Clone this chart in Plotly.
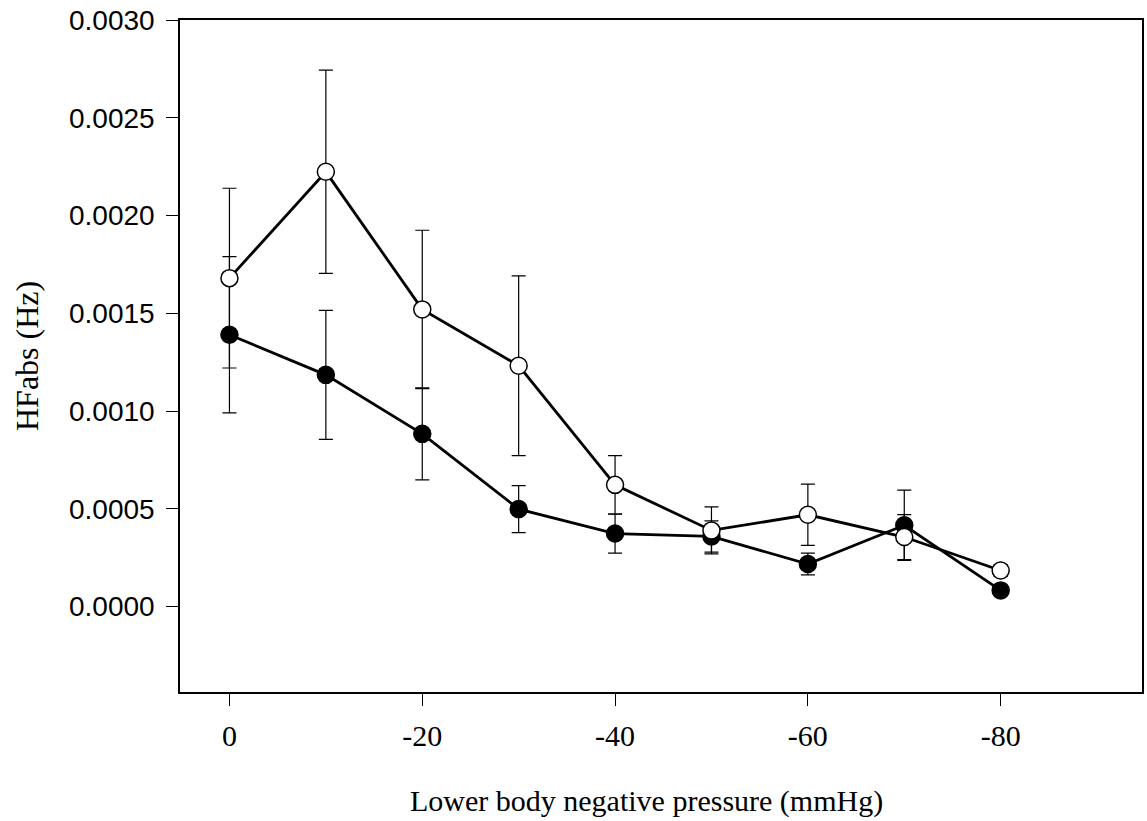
import plotly.graph_objects as go

pressure = [0, -10, -20, -30, -40, -50, -60, -70, -80]
filled_vals = [0.00139, 0.001185, 0.000883, 0.000498, 0.000373, 0.000358, 0.000217, 0.000415, 0.000082]
filled_err = [0.00040, 0.00033, 0.000235, 0.00012, 0.00010, 0.00008, 0.000056, 0.00018, 0.00002]
open_vals = [0.00168, 0.002224, 0.00152, 0.001232, 0.000622, 0.000389, 0.000469, 0.000355, 0.000184]
open_err = [0.00046, 0.00052, 0.000405, 0.00046, 0.00015, 0.00012, 0.000157, 0.000115, 0.00003]

x_ticks = [0, -20, -40, -60, -80]
y_ticks = [0.0, 0.0005, 0.0010, 0.0015, 0.0020, 0.0025, 0.0030]
y_tick_text = ["0.0000", "0.0005", "0.0010", "0.0015", "0.0020", "0.0025", "0.0030"]

W, H = 1147, 821
ML, MR, MT, MB = 180, 5, 20, 129

fig = go.Figure()
fig.add_trace(go.Scatter(
    x=pressure, y=filled_vals, mode="lines+markers",
    line=dict(color="black", width=2.8),
    marker=dict(size=17, color="black", line=dict(color="black", width=1.5)),
    error_y=dict(type="data", array=filled_err, visible=True, color="black", thickness=1.2, width=7),
    showlegend=False,
))
fig.add_trace(go.Scatter(
    x=pressure, y=open_vals, mode="lines+markers",
    line=dict(color="black", width=2.8),
    marker=dict(size=17, color="white", line=dict(color="black", width=1.5)),
    error_y=dict(type="data", array=open_err, visible=True, color="black", thickness=1.2, width=7),
    showlegend=False,
))

pw = W - ML - MR
ph = H - MT - MB

def px_x(x_page):
    return (x_page - ML) / pw

def px_y(y_page):
    return 1 - (y_page - MT) / ph

fig.update_layout(
    width=W, height=H,
    margin=dict(l=ML, r=MR, t=MT, b=MB, autoexpand=False),
    paper_bgcolor="white", plot_bgcolor="white",
    showlegend=False,
    annotations=[
        dict(text="Lower body negative pressure (mmHg)", xref="paper", yref="paper",
             x=px_x(646), y=px_y(801), xanchor="center", yanchor="middle", showarrow=False,
             font=dict(family="Liberation Serif", size=30, color="black")),
        dict(text="HFabs (Hz)", xref="paper", yref="paper", textangle=-90,
             x=px_x(27), y=px_y(356), xanchor="center", yanchor="middle", showarrow=False,
             font=dict(family="Liberation Serif", size=32, color="black")),
    ],
)
fig.update_xaxes(
    range=[5.13, -94.66], tickvals=x_ticks, ticktext=[str(v) for v in x_ticks],
    showgrid=False, zeroline=False, showline=True, linecolor="black", linewidth=1.5, mirror=True,
    ticks="outside", ticklen=12, tickwidth=1.2, tickcolor="black",
    tickfont=dict(family="Liberation Serif", size=30, color="black"),
    ticklabelstandoff=4, automargin=False, ticklabeloverflow="allow",
)
fig.update_yaxes(
    range=[-0.000438, 0.003001], tickvals=y_ticks, ticktext=y_tick_text,
    showgrid=False, zeroline=False, showline=True, linecolor="black", linewidth=1.5, mirror=True,
    ticks="outside", ticklen=12, tickwidth=1.2, tickcolor="black",
    tickfont=dict(family="Liberation Sans", size=28, color="black"),
    ticklabelstandoff=6, automargin=False, ticklabeloverflow="allow",
)

fig.write_html("out.html", config={"displayModeBar": False},
               post_script="document.body.style.margin='0';")
